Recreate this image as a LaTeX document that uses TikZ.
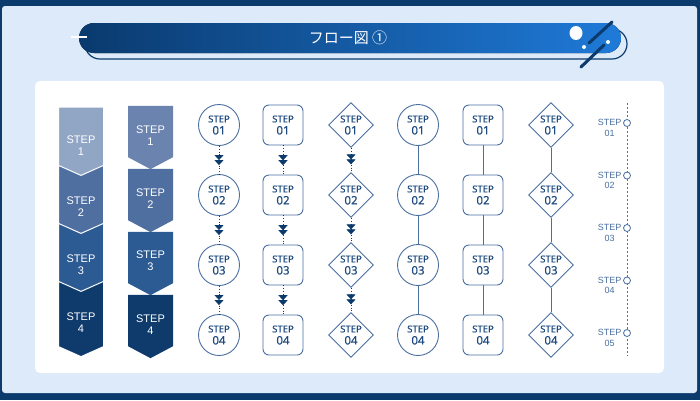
\documentclass[tikz,border=0pt]{standalone}
\usepackage{fontspec}
\setmainfont{Noto Sans}
\newfontfamily\jpfont{Noto Sans CJK JP}
\newfontfamily\armfont{Liberation Sans}
\newfontfamily\medfont[FakeBold=0.5]{Noto Sans}
\usepackage{tikz}
\usetikzlibrary{arrows.meta,positioning,shapes.geometric,shapes.symbols,decorations.markings}
\definecolor{navy}{HTML}{0B3A6C}
\definecolor{panel}{HTML}{DCEAF9}
\definecolor{edgeblue}{HTML}{4A6FA0}
\definecolor{textblue}{HTML}{1E4A80}
\definecolor{stepA}{HTML}{91A5C5}
\definecolor{stepB}{HTML}{4F6FA0}
\definecolor{stepC}{HTML}{2C5A93}
\definecolor{stepD}{HTML}{0E3A6C}
\definecolor{stepAA}{HTML}{6B84AF}
\definecolor{pilldark}{HTML}{0A3A6E}
\definecolor{pilllight}{HTML}{1F7AD8}
\newcommand{\stp}[1]{{\fontsize{9.5}{10}\selectfont STEP}\\#1}
\tikzset{
    %Define standard arrow tip
    dbl/.tip={Triangle[width=9pt,length=5pt] Triangle[width=9pt,length=5pt]},
    %Define style for chevrons
    chevron/.style={
           signal,
           signal to=south,
           signal pointer angle=132,
           draw=white, line width=1pt,
           minimum width=45pt,
           inner sep=0pt,
           text height=27pt,
           align=center,
           text=white,
           font=\armfont\fontsize{11}{12}\selectfont},
    notched/.style={
           chevron,
           signal from=north},
    tagbox/.style={
           signal,
           signal to=south,
           signal pointer angle=124,
           minimum width=45pt,
           minimum height=59pt,
           inner sep=0pt,
           text height=27pt,
           align=center,
           text=white,
           font=\armfont\fontsize{11}{12}\selectfont},
    %Define style for step nodes
    stepcirc/.style={
           circle,
           draw=edgeblue, line width=0.9pt,
           fill=white,
           minimum size=41pt,
           inner sep=0pt,
           align=center,
           text=textblue,
           font=\medfont\fontsize{11.5}{12}\selectfont},
    stepbox/.style={
           rectangle,
           rounded corners=6pt,
           draw=edgeblue, line width=0.9pt,
           fill=white,
           minimum size=40pt,
           inner sep=0pt,
           align=center,
           text=textblue,
           font=\medfont\fontsize{11.5}{12}\selectfont},
    stepdiam/.style={
           diamond,
           draw=edgeblue, line width=0.9pt,
           fill=white,
           minimum size=45pt,
           inner sep=0pt,
           align=center,
           text=textblue,
           font=\medfont\fontsize{11.5}{12}\selectfont},
    tickring/.style={
           circle,
           draw=edgeblue, line width=0.8pt,
           fill=white,
           minimum size=7pt,
           inner sep=0pt},
    tlabel/.style={
           align=center,
           text=edgeblue,
           inner sep=0pt,
           font=\armfont\fontsize{9}{10.5}\selectfont},
    % Define connector styles
    dotlink/.style={
           draw=navy, dotted, line width=0.8pt,
           postaction={decorate},
           decoration={markings, mark=at position 0.68 with {\arrow{dbl}}}},
    solidlink/.style={
           draw=edgeblue, line width=0.9pt}
}
\begin{document}
\begin{tikzpicture}[x=1pt,y=-1pt,on grid,node distance=70pt]
\useasboundingbox (0,0) rectangle (700,400);
% background and card
\fill[navy] (0,0) rectangle (700,400);
\fill[panel, rounded corners=3pt] (2,6) rectangle (697,393);
\fill[white, rounded corners=5pt] (35,81) rectangle (664,373);
% header
\draw[navy, line width=1.2pt, fill=panel, rounded corners=15pt] (85,29) rectangle (627,59);
\fill[left color=pilldark, right color=pilllight, rounded corners=15pt] (79,23) rectangle (621,53);
\node[text=white, font=\jpfont\fontsize{15}{15}\selectfont] (title) at (348,38) {フロー図 ①};
\draw[white, line width=1.5pt] (71,37) -- (87,37);
\fill[white!85!panel] (576,33) ellipse (6.5 and 7);
\fill[white] (584,47) circle (2) (608,42) circle (2);
\draw[navy, line width=3pt, line cap=round] (589,43) -- (612,22) (581,67) -- (604,45);
% chevrons
\node[chevron, fill=stepA, minimum height=75pt] (a1) at (81,141.5) {STEP\\1};
\node[notched, fill=stepB, minimum height=68pt, below=61.5pt of a1] (a2) {STEP\\2};
\node[notched, fill=stepC, minimum height=68pt, below=58pt of a2] (a3) {STEP\\3};
\node[notched, fill=stepD, minimum height=68pt, below=58pt of a3] (a4) {STEP\\4};
% tags
\node[tagbox, fill=stepAA] (b1) at (150.5,131.5) {STEP\\1};
\node[tagbox, fill=stepB, below=63pt of b1] (b2) {STEP\\2};
\node[tagbox, fill=stepC, below=63pt of b2] (b3) {STEP\\3};
\node[tagbox, fill=stepD, below=63pt of b3] (b4) {STEP\\4};
% arrow columns
\node[stepcirc] (c1) at (219,125) {\stp{01}};
\node[stepcirc, below=of c1] (c2) {\stp{02}};
\node[stepcirc, below=of c2] (c3) {\stp{03}};
\node[stepcirc, below=of c3] (c4) {\stp{04}};
\node[stepbox] (r1) at (283,125) {\stp{01}};
\node[stepbox, below=of r1] (r2) {\stp{02}};
\node[stepbox, below=of r2] (r3) {\stp{03}};
\node[stepbox, below=of r3] (r4) {\stp{04}};
\node[stepdiam] (d1) at (351,125) {\stp{01}};
\node[stepdiam, below=of d1] (d2) {\stp{02}};
\node[stepdiam, below=of d2] (d3) {\stp{03}};
\node[stepdiam, below=of d3] (d4) {\stp{04}};
\path (c1) edge[dotlink] (c2) (c2) edge[dotlink] (c3) (c3) edge[dotlink] (c4)
      (r1) edge[dotlink] (r2) (r2) edge[dotlink] (r3) (r3) edge[dotlink] (r4)
      (d1) edge[dotlink] (d2) (d2) edge[dotlink] (d3) (d3) edge[dotlink] (d4);
% line columns
\node[stepcirc] (cc1) at (418,125) {\stp{01}};
\node[stepcirc, below=of cc1] (cc2) {\stp{02}};
\node[stepcirc, below=of cc2] (cc3) {\stp{03}};
\node[stepcirc, below=of cc3] (cc4) {\stp{04}};
\node[stepbox] (rr1) at (483,125) {\stp{01}};
\node[stepbox, below=of rr1] (rr2) {\stp{02}};
\node[stepbox, below=of rr2] (rr3) {\stp{03}};
\node[stepbox, below=of rr3] (rr4) {\stp{04}};
\node[stepdiam] (dd1) at (551,125) {\stp{01}};
\node[stepdiam, below=of dd1] (dd2) {\stp{02}};
\node[stepdiam, below=of dd2] (dd3) {\stp{03}};
\node[stepdiam, below=of dd3] (dd4) {\stp{04}};
\path (cc1) edge[solidlink] (cc2) (cc2) edge[solidlink] (cc3) (cc3) edge[solidlink] (cc4)
      (rr1) edge[solidlink] (rr2) (rr2) edge[solidlink] (rr3) (rr3) edge[solidlink] (rr4)
      (dd1) edge[solidlink] (dd2) (dd2) edge[solidlink] (dd3) (dd3) edge[solidlink] (dd4);
% timeline
\coordinate (ttop) at (627,103);
\coordinate (tbot) at (627,356);
\draw[edgeblue, line width=0.8pt, dash pattern=on 2pt off 2pt] (ttop) -- (tbot);
\node[tickring] (t1) at (627,123) {};
\node[tickring, below=52.5pt of t1] (t2) {};
\node[tickring, below=52.5pt of t2] (t3) {};
\node[tickring, below=52.5pt of t3] (t4) {};
\node[tickring, below=52.5pt of t4] (t5) {};
\node[tlabel, left=17.5pt of t1, yshift=-5pt] (l1) {STEP\\01};
\node[tlabel, left=17.5pt of t2, yshift=-5pt] (l2) {STEP\\02};
\node[tlabel, left=17.5pt of t3, yshift=-5pt] (l3) {STEP\\03};
\node[tlabel, left=17.5pt of t4, yshift=-5pt] (l4) {STEP\\04};
\node[tlabel, left=17.5pt of t5, yshift=-5pt] (l5) {STEP\\05};
\end{tikzpicture}
\end{document}
